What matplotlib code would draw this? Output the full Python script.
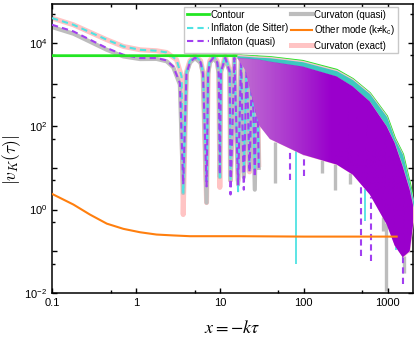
import numpy as np
import matplotlib
matplotlib.use('Agg')
import matplotlib.pyplot as plt
from matplotlib.colors import to_rgb
from matplotlib.ticker import LogLocator, FuncFormatter, NullFormatter

plt.rcParams['font.family'] = ['Liberation Sans', 'DejaVu Sans']
plt.rcParams['mathtext.fontset'] = 'custom'
plt.rcParams['mathtext.rm'] = 'Liberation Sans'
plt.rcParams['mathtext.it'] = 'Liberation Sans:italic'

# --- values ---
# smooth part (x < first node)
x_ds_smooth = [0.1, 0.18, 0.45, 0.71, 1.12, 1.76, 2.32, 3.05, 3.50]
y_ds_smooth = [39100, 27000, 11800, 8150, 6790, 6430, 5860, 3920, 1560]
x_q_smooth = [0.1, 0.18, 0.45, 0.71, 1.12, 1.76, 2.32, 2.78, 3.34]
y_inf_q_smooth = [27000, 18700, 7460, 5160, 4300, 4300, 3770, 2700, 1080]
y_cur_q_smooth = [23800, 16500, 6790, 4700, 4070, 4100, 3600, 2600, 1000]

# separate lobes (nodes and maxima) for 3.6 < x < 30
lobe_x = [3.66, 4.0, 4.4, 5.05, 5.9, 6.3, 6.95, 7.25, 7.6, 8.4, 9.3, 9.7,
          10.0, 10.3, 11.6, 13.1, 13.4, 14.9, 16.5, 17.9, 19.3, 20.9, 22.6,
          24.3, 26.1, 27.6, 29.1]
lobe_inf_ds = [2.55, 2000, 3700, 4800, 3700, 2000, 5, 2000, 3700, 4800, 3700, 2000,
               6, 2200, 4750, 2200, 5, 4700, 2.75, 4600, 8, 4500, 10, 4450, 9, 4400, 12]
lobe_inf_q = [4.0, 1800, 3400, 4400, 3400, 1800, 3.6, 1800, 3400, 4400, 3400, 1800,
              7, 2000, 4350, 2000, 2.3, 4300, 4, 4200, 3, 4100, 8, 4000, 6, 3950, 10]
lobe_cur_q = [2.5, 1800, 3300, 4300, 3300, 1800, 1.47, 1800, 3300, 4300, 3300, 1800,
              6, 2000, 4250, 2000, 5, 4200, 4, 4100, 6, 4000, 9, 3950, 3, 3900, 10]
lobe_cur_ex = [0.76, 2000, 3700, 4800, 3700, 2000, 1.47, 2000, 3700, 4800, 3700, 2000,
               3.4, 2200, 4750, 2200, 5, 4700, 5, 4600, 8, 4500, 8, 4450, 10, 4400, 12]

# dense oscillation band: upper envelopes and lower edge
env_x = [16, 20, 29, 39.4, 97, 247, 383, 611, 973, 1210, 1510, 1830, 2100]
env_ds = [4890, 4750, 4500, 4370, 3510, 2130, 1300, 600, 169, 50, 20.8, 4, 1.2]
env_q = [4370, 4250, 4000, 3550, 2700, 1560, 900, 393, 99, 40, 10.9, 3.0, 0.85]
floor_x = [16, 20, 26, 40, 97, 247, 383, 611, 973, 1400, 1830, 2100]
floor_y = [4370, 2250, 143, 47.5, 20.8, 12, 6.9, 2.3, 0.44, 0.063, 0.1, 0.85]

# deep single nodes below the band
spike_cyan_x = [80, 532, 1270]
spike_cyan_y = [0.05, 0.52, 0.13]
spike_purple_x = [68, 100, 486, 640, 1530]
spike_purple_y = [5, 6.3, 0.075, 0.058, 0.016]
spike_gray_x = [45, 163, 234, 353, 871, 956, 1550]
spike_gray_y = [4.4, 7.7, 3, 4, 0.3, 0.011, 0.03]

# contour and the other mode
contour_x = [0.1, 16, 39.4, 97, 247, 383, 611, 973, 1210, 1510, 1830, 2100]
contour_y = [4900, 4900, 4450, 3600, 2200, 1330, 610, 172, 51, 21, 4.1, 1.2]
other_x = [0.1, 0.18, 0.283, 0.45, 0.71, 1.12, 1.76, 2.78, 4.4, 17.3, 100, 1280]
other_y = [2.38, 1.32, 0.76, 0.46, 0.345, 0.286, 0.252, 0.24, 0.23, 0.23, 0.225, 0.225]

c_pink = '#ffc4c4'
c_gray = '#bdbdbd'
c_cyan = '#4fe3e3'
c_purple = '#a23ff0'
c_band = '#9a00cc'
c_green = '#22e622'
c_orange = '#ff7f0e'

fig = plt.figure(figsize=(4.15, 3.42), dpi=100)
ax = fig.add_axes([0.1253, 0.1433, 0.8697, 0.845])


def floor_at(x):
    return 10 ** np.interp(np.log10(x), np.log10(floor_x), np.log10(floor_y))


# full curves: smooth part + lobes
l_ex, = ax.plot(x_ds_smooth + lobe_x, y_ds_smooth + lobe_cur_ex, color=c_pink,
                lw=3.6, zorder=2, label='Curvaton (exact)')
l_cq, = ax.plot(x_q_smooth + lobe_x, y_cur_q_smooth + lobe_cur_q, color=c_gray,
                lw=3.0, zorder=2.5, label='Curvaton (quasi)')
l_ds, = ax.plot(x_ds_smooth + lobe_x, y_ds_smooth + lobe_inf_ds, color=c_cyan,
                lw=1.5, ls=(0, (3, 2)), zorder=3, label='Inflaton (de Sitter)')
l_iq, = ax.plot(x_q_smooth + lobe_x, y_inf_q_smooth + lobe_inf_q, color=c_purple,
                lw=1.5, ls=(0, (3, 2)), zorder=3.5, label='Inflaton (quasi)')

# spikes under the band
ax.vlines(spike_gray_x, spike_gray_y, floor_at(spike_gray_x), color=c_gray, lw=2.4, zorder=1.5)
ax.vlines(spike_cyan_x, spike_cyan_y, floor_at(spike_cyan_x), color=c_cyan, lw=1.3, zorder=1.7)
ax.vlines(spike_purple_x, spike_purple_y, floor_at(spike_purple_x), color=c_purple, lw=1.5,
          linestyles=(0, (3, 2)), zorder=1.8)

l_ct, = ax.plot(contour_x, contour_y, color=c_green, lw=2.0, zorder=4, label='Contour')

# dense band: pink underlay, teal rim, purple body fading in from the left
ax.fill_between(env_x, floor_at(env_x), np.array(env_ds) * 1.08, color='#f3c6cc', lw=0, zorder=4.2)
ax.fill_between(env_x, env_q, env_ds, color='#3cc8c0', lw=0, zorder=4.4)
band = ax.fill_between(env_x, floor_at(env_x), env_q, color='none', lw=0, zorder=4.6)

fx = np.linspace(0, 1, 400)
a = np.clip((fx - 0.50) / (0.77 - 0.50), 0, 1)
c0, c1 = np.array(to_rgb('#a440d6')), np.array(to_rgb(c_band))
rgba = np.zeros((1, fx.size, 4))
rgba[0, :, :3] = c0 * (1 - a[:, None]) + c1 * a[:, None]
rgba[0, :, 3] = 0.62 + 0.38 * a
im = ax.imshow(rgba, extent=[0, 1, 0, 1], transform=ax.transAxes, aspect='auto',
               interpolation='bilinear', zorder=4.6)
im.set_clip_path(band.get_paths()[0], ax.transData)

l_ot, = ax.plot(other_x, other_y, color=c_orange, lw=1.5, zorder=6,
                label='Other mode (k≠k$_\\mathregular{c}$)')

ax.set_xscale('log')
ax.set_yscale('log')
ax.set_xlim(0.1, 2000)
ax.set_ylim(1e-2, 8.5e4)

ax.xaxis.set_major_locator(LogLocator(base=10, numticks=12))
ax.xaxis.set_minor_locator(LogLocator(base=10, subs=[5], numticks=12))
ax.xaxis.set_major_formatter(FuncFormatter(lambda v, p: f'{v:g}'))
ax.xaxis.set_minor_formatter(NullFormatter())
ax.yaxis.set_major_locator(LogLocator(base=10, numticks=12))
ax.yaxis.set_minor_locator(LogLocator(base=10, subs=[5], numticks=12))


def ylab(v, p):
    e = int(round(np.log10(v)))
    return r'$\mathregular{10^{%d}}$' % e if e % 2 == 0 else ''


ax.yaxis.set_major_formatter(FuncFormatter(ylab))
ax.yaxis.set_minor_formatter(NullFormatter())
ax.tick_params(which='both', direction='in', top=True, right=True, width=1, labelsize=8)
ax.tick_params(which='major', length=3.8)
ax.tick_params(which='minor', length=2.2)
for s in ax.spines.values():
    s.set_linewidth(1.1)

ax.set_xlabel(r'$x\mathrm{=}\mathrm{-}k\tau$', math_fontfamily='stix', fontsize=13)
ax.xaxis.set_label_coords(0.5, -0.095)
ax.set_ylabel(r'$|v_K(\tau)|$', math_fontfamily='cm', fontsize=12.5)
ax.yaxis.set_label_coords(-0.08, 0.46)

hs = [l_ct, l_ds, l_iq, l_cq, l_ot, l_ex]
leg = ax.legend(hs, [h.get_label() for h in hs],
                ncol=2, fontsize=7, loc='upper right', bbox_to_anchor=(0.959, 0.98),
                bbox_transform=fig.transFigure, frameon=True, fancybox=False,
                framealpha=1, edgecolor='#c8c8c8', handlelength=2.2, handletextpad=0.2,
                columnspacing=0.3, labelspacing=0.35, borderpad=0.3, borderaxespad=0)
leg.get_frame().set_linewidth(1.0)
leg.set_zorder(10)

fig.savefig('out.png', dpi=100)
